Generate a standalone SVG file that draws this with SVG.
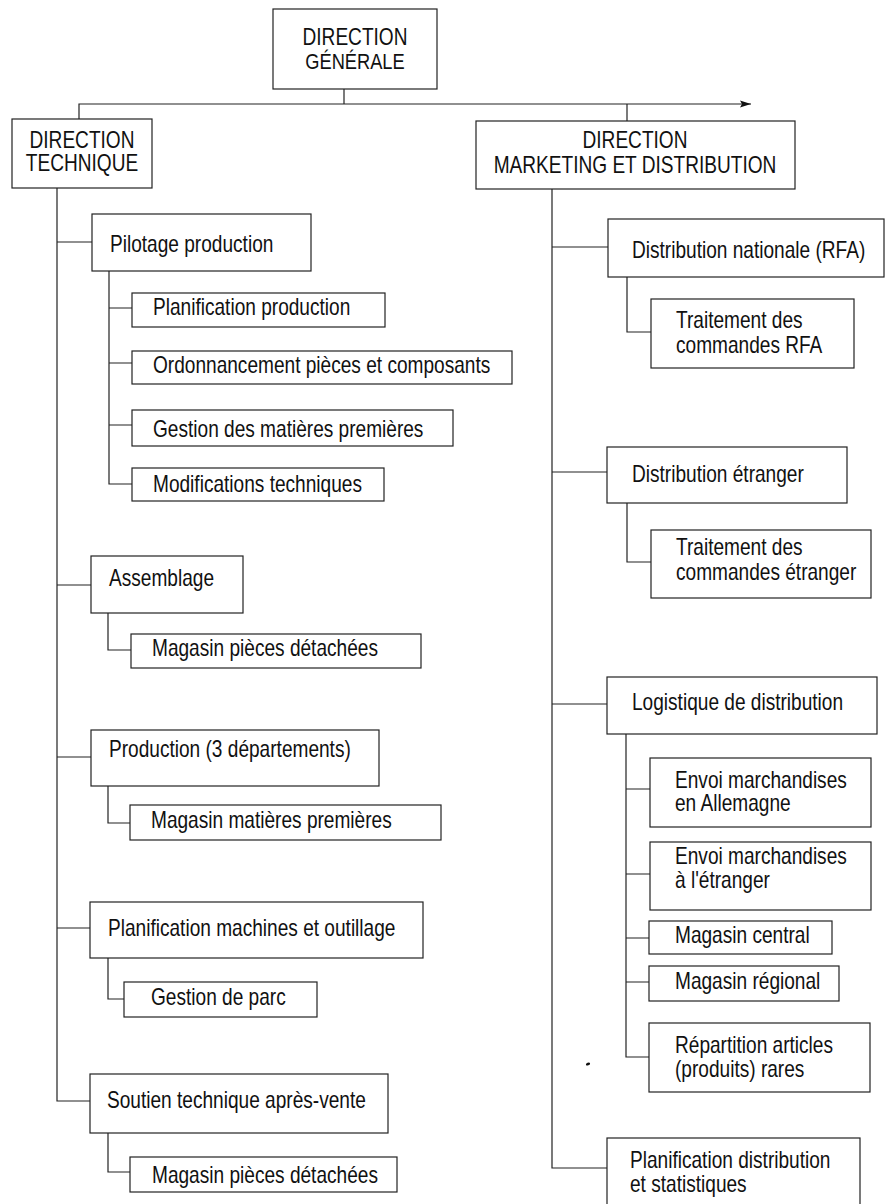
<svg xmlns="http://www.w3.org/2000/svg" width="886" height="1204" viewBox="0 0 886 1204">
<style>
rect.b{fill:#fff;stroke:#222;stroke-width:1.2}
text{font-family:"Liberation Sans",Arial,Helvetica,sans-serif;font-size:23px;fill:#111}
.c{text-anchor:middle}
#connectors path{fill:none;stroke:#222;stroke-width:1.2}
</style>
<defs>
<marker id="arr" markerWidth="12" markerHeight="8" refX="11" refY="4" orient="auto" markerUnits="userSpaceOnUse">
<path d="M0,0.5 L11,4 L0,7.5 L2,4 Z" fill="#111"/>
</marker>
</defs>
<rect width="886" height="1204" fill="#fff"/>
<g id="connectors">
<path d="M344 89 V104"/>
<path d="M79 119 V104 H751" marker-end="url(#arr)"/>
<path d="M627 104 V121"/>
<path d="M57 188 V1101 H90"/>
<path d="M57 242 H92 M57 585 H91 M57 757 H91 M57 928 H90"/>
<path d="M109 271 V484 H132 M109 308 H132 M109 363 H132 M109 425 H132"/>
<path d="M108 613 V650 H131"/>
<path d="M108 786 V823 H130"/>
<path d="M108 958 V999 H124"/>
<path d="M108 1133 V1172 H130"/>
<path d="M552 189 V1168 H607"/>
<path d="M552 247 H608 M552 472 H607 M552 704 H607"/>
<path d="M627 277 V332 H651"/>
<path d="M627 503 V562 H651"/>
<path d="M626 734 V1057 H649 M626 789 H650 M626 874 H650 M626 938 H649 M626 982 H649"/>
</g>
<g id="n-dg"><rect class="b" x="273" y="9" width="164" height="80"/><text class="c" transform="translate(355 45) scale(0.83 1)"><tspan x="0">DIRECTION</tspan><tspan x="0" dy="24" font-size="22">GÉNÉRALE</tspan></text></g>
<g id="n-dt"><rect class="b" x="12" y="119" width="140" height="69"/><text class="c" transform="translate(82 148) scale(0.83 1)"><tspan x="0">DIRECTION</tspan><tspan x="0" dy="23">TECHNIQUE</tspan></text></g>
<g id="n-dmd"><rect class="b" x="476" y="121" width="319" height="68"/><text class="c" transform="translate(635 148) scale(0.83 1)"><tspan x="0">DIRECTION</tspan><tspan x="0" dy="25">MARKETING ET DISTRIBUTION</tspan></text></g>
<g id="n-pilotage"><rect class="b" x="92" y="214" width="219" height="57"/><text transform="translate(110 252) scale(0.83 1)">Pilotage production</text></g>
<g id="n-planprod"><rect class="b" x="132" y="293" width="253" height="34"/><text transform="translate(153 315) scale(0.83 1)">Planification production</text></g>
<g id="n-ordo"><rect class="b" x="132" y="351" width="380" height="33"/><text transform="translate(153 373) scale(0.83 1)">Ordonnancement pièces et composants</text></g>
<g id="n-gestmp"><rect class="b" x="132" y="410" width="321" height="36"/><text transform="translate(153 437) scale(0.83 1)">Gestion des matières premières</text></g>
<g id="n-modif"><rect class="b" x="132" y="468" width="252" height="33"/><text transform="translate(153 492) scale(0.83 1)">Modifications techniques</text></g>
<g id="n-assemblage"><rect class="b" x="91" y="556" width="152" height="57"/><text transform="translate(109 586) scale(0.83 1)">Assemblage</text></g>
<g id="n-magpd1"><rect class="b" x="131" y="634" width="290" height="34"/><text transform="translate(152 656) scale(0.83 1)">Magasin pièces détachées</text></g>
<g id="n-production"><rect class="b" x="91" y="730" width="288" height="56"/><text transform="translate(109 757) scale(0.83 1)">Production (3 départements)</text></g>
<g id="n-magmp"><rect class="b" x="130" y="805" width="311" height="35"/><text transform="translate(151 828) scale(0.83 1)">Magasin matières premières</text></g>
<g id="n-planmach"><rect class="b" x="90" y="902" width="333" height="56"/><text transform="translate(108 936) scale(0.83 1)">Planification machines et outillage</text></g>
<g id="n-parc"><rect class="b" x="124" y="982" width="193" height="35"/><text transform="translate(151 1005) scale(0.83 1)">Gestion de parc</text></g>
<g id="n-soutien"><rect class="b" x="90" y="1074" width="298" height="59"/><text transform="translate(107 1108) scale(0.83 1)">Soutien technique après-vente</text></g>
<g id="n-magpd2"><rect class="b" x="130" y="1157" width="267" height="35"/><text transform="translate(152 1183) scale(0.83 1)">Magasin pièces détachées</text></g>
<g id="n-distnat"><rect class="b" x="608" y="219" width="276" height="58"/><text transform="translate(632 258) scale(0.83 1)">Distribution nationale (RFA)</text></g>
<g id="n-traitrfa"><rect class="b" x="651" y="299" width="203" height="69"/><text transform="translate(676 328) scale(0.83 1)"><tspan x="0">Traitement des</tspan><tspan x="0" dy="25">commandes RFA</tspan></text></g>
<g id="n-distetr"><rect class="b" x="607" y="447" width="240" height="56"/><text transform="translate(632 482) scale(0.83 1)">Distribution étranger</text></g>
<g id="n-traitetr"><rect class="b" x="651" y="530" width="220" height="68"/><text transform="translate(676 555) scale(0.83 1)"><tspan x="0">Traitement des</tspan><tspan x="0" dy="25">commandes étranger</tspan></text></g>
<g id="n-logistique"><rect class="b" x="607" y="677" width="270" height="57"/><text transform="translate(632 710) scale(0.83 1)">Logistique de distribution</text></g>
<g id="n-envoiall"><rect class="b" x="650" y="758" width="221" height="69"/><text transform="translate(675 788) scale(0.83 1)"><tspan x="0">Envoi marchandises</tspan><tspan x="0" dy="23">en Allemagne</tspan></text></g>
<g id="n-envoietr"><rect class="b" x="650" y="842" width="221" height="68"/><text transform="translate(675 864) scale(0.83 1)"><tspan x="0">Envoi marchandises</tspan><tspan x="0" dy="24">à l'étranger</tspan></text></g>
<g id="n-magcentral"><rect class="b" x="649" y="921" width="183" height="33"/><text transform="translate(675 943) scale(0.83 1)">Magasin central</text></g>
<g id="n-magregional"><rect class="b" x="649" y="966" width="190" height="35"/><text transform="translate(675 989) scale(0.83 1)">Magasin régional</text></g>
<g id="n-repartition"><rect class="b" x="649" y="1023" width="221" height="69"/><text transform="translate(675 1053) scale(0.83 1)"><tspan x="0">Répartition articles</tspan><tspan x="0" dy="24">(produits) rares</tspan></text></g>
<g id="n-plandist"><rect class="b" x="607" y="1138" width="253" height="82"/><text transform="translate(630 1168) scale(0.83 1)"><tspan x="0">Planification distribution</tspan><tspan x="0" dy="24">et statistiques</tspan></text></g>
<ellipse cx="588" cy="1064" rx="2.2" ry="1.4" transform="rotate(-20 588 1064)" fill="#111"/>
</svg>
